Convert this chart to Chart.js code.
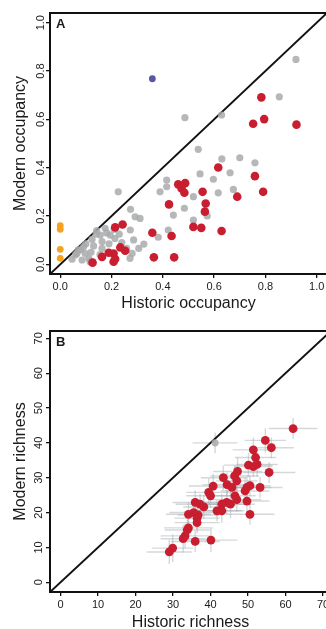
<!DOCTYPE html>
<html><head><meta charset="utf-8">
<script src="https://cdn.jsdelivr.net/npm/chart.js@4/dist/chart.umd.min.js"></script>
<style>
html,body{margin:0;padding:0;background:#fff;overflow:hidden;width:326px;height:629px;}
#wrap{position:relative;width:326px;height:629px;overflow:hidden;background:#fff;}
canvas{position:absolute;left:0;}
#cA{top:0;} #cB{top:320px;}
</style></head><body>
<div id="wrap"><canvas id="cA" width="345" height="320"></canvas><canvas id="cB" width="345" height="320"></canvas></div>
<script>
// ---------- Panel A: occupancy ----------
const occLim = [-0.04, 1.04];
const occTicks = [0, 0.2, 0.4, 0.6, 0.8, 1.0];
const occTickLabels = ['0.0', '0.2', '0.4', '0.6', '0.8', '1.0'];

const redOccHist = [0.784,0.752,0.795,0.921,0.616,0.759,0.791,0.690,0.460,0.487,0.473,0.484,0.555,0.567,0.564,0.424,0.519,0.550,0.629,0.359,0.434,0.365,0.444,0.214,0.243,0.163,0.189,0.208,0.234,0.253,0.208,0.214,0.126];
const redOccMod  = [0.691,0.582,0.601,0.578,0.401,0.365,0.300,0.280,0.331,0.336,0.314,0.296,0.300,0.252,0.218,0.248,0.155,0.151,0.138,0.131,0.117,0.029,0.029,0.153,0.165,0.031,0.048,0.045,0.070,0.056,0.011,0.022,0.007];

const grayOccHist = [0.919,0.854,0.486,0.629,0.538,0.630,0.700,0.759,0.662,0.597,0.545,0.616,0.675,0.573,0.519,0.519,0.484,0.441,0.421,0.382,0.389,0.415,0.415,0.311,0.226,0.274,0.292,0.326,0.273,0.286,0.175,0.156,0.195,0.124,0.163,0.213,0.181,0.091,0.130,0.163,0.065,0.097,0.046,0.085,0.111,0.155,0.116,0.280,0.306,0.259,0.272,0.142,0.070,0.140,0.210,0.230,0.100,0.060,0.190,0.240,0.080,0.120];
const grayOccMod  = [0.848,0.693,0.607,0.618,0.476,0.436,0.441,0.420,0.379,0.352,0.374,0.296,0.310,0.200,0.280,0.183,0.232,0.204,0.142,0.112,0.300,0.321,0.349,0.190,0.300,0.228,0.197,0.084,0.142,0.101,0.149,0.121,0.121,0.103,0.094,0.107,0.130,0.073,0.076,0.066,0.045,0.045,0.021,0.018,0.025,0.040,0.011,0.045,0.066,0.066,0.025,0.140,0.060,0.125,0.145,0.125,0.085,0.040,0.085,0.090,0.060,0.050];

const orangeOccHist = [0, 0, 0, 0];
const orangeOccMod  = [0.160, 0.145, 0.062, 0.025];

const blueOccHist = [0.359];
const blueOccMod  = [0.768];

// ---------- Panel B: richness ----------
const richLim = [-2.8, 72.1];
const richTicks = [0, 10, 20, 30, 40, 50, 60, 70];

const redRichHist = [62.0,54.6,56.2,51.4,52.0,50.1,51.4,52.4,55.6,47.2,43.4,46.4,47.0,44.4,45.7,49.7,50.5,49.2,53.2,40.7,39.5,40.0,46.5,47.0,49.7,44.3,43.0,45.3,35.9,37.2,38.2,41.7,43.0,50.5,34.1,35.5,36.7,36.4,36.4,34.1,33.8,33.2,32.7,35.9,40.1,29.9,29.0];
const redRichMod  = [44.1,40.7,38.6,38.0,35.8,33.6,33.2,33.8,31.5,31.8,30.0,30.5,29.1,28.0,27.2,27.2,27.7,26.2,27.2,27.6,25.8,24.8,24.8,23.7,23.3,22.9,22.4,22.4,22.9,22.4,21.6,20.5,20.5,19.5,19.5,20.0,19.3,18.4,17.1,15.6,15.0,13.3,12.5,11.7,12.1,9.8,8.7];
const redRichHistErr = [6.5,5.5,6.0,5.5,5.5,6.5,5.0,5.5,7.0,6.5, 6.0,6.5,5.5,6.5,6.0,6.5,5.5,6.5,6.0,6.5, 6.0,6.5,5.5,6.5,6.0,6.5,6.0,6.5,6.0,6.5, 5.5,6.5,6.0,6.5,6.0,6.5,5.5,6.0,6.0,6.5, 6.0,6.5,6.0,6.5,7.0,5.5,6.0];
const redRichModErr  = [3.0,3.5,3.0,3.5,3.0,3.5,3.0,3.5,3.0,4.0, 3.5,3.0,4.0,3.5,3.0,3.5,3.0,4.0,3.0,3.5, 4.0,3.5,3.0,3.5,3.0,3.5,3.0,4.0,3.5,3.0, 3.5,3.0,3.5,3.0,3.5,4.0,3.0,3.5,3.0,3.5, 3.0,3.5,4.0,3.0,3.5,4.0,3.5];

const grayRichHist = [41.2];
const grayRichMod  = [40.0];
const grayRichHistErr = [6.0];
const grayRichModErr  = [3.0];

// ---------- helpers ----------
const FONT = '"Liberation Sans", Arial, Helvetica, sans-serif';
Chart.defaults.font.family = FONT;
Chart.defaults.color = '#1a1a1a';

const pts = (xs, ys) => xs.map((x, i) => ({x: x, y: ys[i]}));

const RED = '#c81e30', GRAY = 'rgba(168,170,172,0.85)', ORANGE = '#f5a31e', BLUE = '#5757a6';

const panelPlugin = {
  id: 'panel',
  afterDatasetsDraw(chart, args, opts) {
    const {ctx, chartArea: a} = chart;
    ctx.save();
    ctx.strokeStyle = '#111';
    ctx.lineWidth = 2;
    ctx.strokeRect(a.left, a.top, a.right - a.left, a.bottom - a.top);
    ctx.fillStyle = '#1a1a1a';
    ctx.font = 'bold 13px ' + FONT;
    ctx.textBaseline = 'alphabetic';
    ctx.textAlign = 'left';
    ctx.fillText(opts.label, a.left + 6, a.top + 15);
    ctx.restore();
  }
};

const errorBarPlugin = {
  id: 'errbars',
  beforeDatasetsDraw(chart, args, opts) {
    if (!opts.groups) return;
    const {ctx, chartArea: a} = chart;
    const sx = chart.scales.x, sy = chart.scales.y;
    ctx.save();
    ctx.beginPath();
    ctx.rect(a.left, a.top, a.right - a.left, a.bottom - a.top);
    ctx.clip();
    ctx.strokeStyle = 'rgba(170,177,182,0.5)';
    ctx.lineWidth = 1.4;
    opts.groups.forEach(g => {
      g.hx.forEach((h, i) => {
        const m = g.my[i], ex = g.ex[i], ey = g.ey[i];
        ctx.beginPath();
        ctx.moveTo(sx.getPixelForValue(h - ex), sy.getPixelForValue(m));
        ctx.lineTo(sx.getPixelForValue(h + ex), sy.getPixelForValue(m));
        ctx.moveTo(sx.getPixelForValue(h), sy.getPixelForValue(m - ey));
        ctx.lineTo(sx.getPixelForValue(h), sy.getPixelForValue(m + ey));
        ctx.stroke();
      });
    });
    ctx.restore();
  }
};

function makeScales(lim, ticks, labelFn, xTitle, yTitle, cfg) {
  const grid = {display: true, drawOnChartArea: false, drawTicks: true, tickLength: 4, color: '#111', lineWidth: 1.3};
  return {
    x: {
      type: 'linear', min: lim[0], max: lim[1],
      afterBuildTicks: s => { s.ticks = ticks.map(v => ({value: v})); },
      ticks: {autoSkip: false, maxRotation: 0, minRotation: 0, padding: cfg.xTickPad, font: {size: 11}, color: '#1a1a1a', callback: (v, i) => labelFn(v, i)},
      grid: grid, border: {display: false},
      title: {display: true, text: xTitle, font: {size: 16}, color: '#1a1a1a', padding: {top: 0, bottom: cfg.xTitlePad}},
      afterFit: s => { s.height = cfg.xHeight; }
    },
    y: {
      type: 'linear', min: lim[0], max: lim[1],
      afterBuildTicks: s => { s.ticks = ticks.map(v => ({value: v})); },
      ticks: {autoSkip: false, minRotation: 90, maxRotation: 90, crossAlign: 'center', padding: cfg.yTickPad, font: {size: 11}, color: '#1a1a1a', callback: (v, i) => labelFn(v, i)},
      grid: grid, border: {display: false},
      title: {display: true, text: yTitle, font: {size: 16}, color: '#1a1a1a', padding: {top: cfg.yTitlePad, bottom: 0}},
      afterFit: s => { s.width = 50; }
    }
  };
}

const commonOpts = {
  responsive: false, animation: false, devicePixelRatio: 1,
  events: [],
};

// ---------- Chart A ----------
new Chart(document.getElementById('cA'), {
  type: 'scatter',
  data: {
    datasets: [
      {data: pts(redOccHist, redOccMod), backgroundColor: RED, pointRadius: 4.3, borderWidth: 0},
      {data: pts(blueOccHist, blueOccMod), backgroundColor: BLUE, pointRadius: 3.4, borderWidth: 0},
      {data: pts(orangeOccHist, orangeOccMod), backgroundColor: ORANGE, pointRadius: 3.4, borderWidth: 0},
      {data: pts(grayOccHist, grayOccMod), backgroundColor: GRAY, pointRadius: 3.6, borderWidth: 0},
      {type: 'line', data: pts(occLim, occLim), borderColor: '#111', borderWidth: 2, pointRadius: 0, fill: false}
    ]
  },
  options: Object.assign({}, commonOpts, {
    layout: {padding: {top: 13, right: 18, left: 0, bottom: 0}},
    scales: makeScales(occLim, occTicks, (v, i) => occTickLabels[i], 'Historic occupancy', 'Modern occupancy',
      {xTickPad: 2.4, xTitlePad: 7.2, xHeight: 46, yTickPad: -2.65, yTitlePad: 10.5}),
    plugins: {legend: {display: false}, tooltip: {enabled: false}, panel: {label: 'A'}}
  }),
  plugins: [panelPlugin]
});

// ---------- Chart B ----------
new Chart(document.getElementById('cB'), {
  type: 'scatter',
  data: {
    datasets: [
      {data: pts(redRichHist, redRichMod), backgroundColor: RED, pointRadius: 4.4, borderWidth: 0},
      {data: pts(grayRichHist, grayRichMod), backgroundColor: GRAY, pointRadius: 3.6, borderWidth: 0},
      {type: 'line', data: pts(richLim, richLim), borderColor: '#111', borderWidth: 2, pointRadius: 0, fill: false}
    ]
  },
  options: Object.assign({}, commonOpts, {
    layout: {padding: {top: 11, right: 14, left: 0, bottom: 0}},
    scales: makeScales(richLim, richTicks, (v, i) => String(richTicks[i]), 'Historic richness', 'Modern richness',
      {xTickPad: 2.4, xTitlePad: 8.0, xHeight: 48, yTickPad: 0.9, yTitlePad: 10.5}),
    plugins: {legend: {display: false}, tooltip: {enabled: false}, panel: {label: 'B'},
      errbars: {groups: [
        {hx: grayRichHist, my: grayRichMod, ex: grayRichHistErr, ey: grayRichModErr},
        {hx: redRichHist, my: redRichMod, ex: redRichHistErr, ey: redRichModErr}
      ]}}
  }),
  plugins: [panelPlugin, errorBarPlugin]
});
</script>
</body></html>
